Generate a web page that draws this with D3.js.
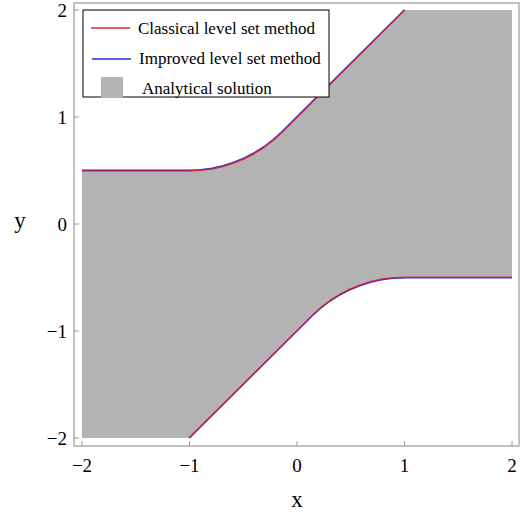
<!DOCTYPE html>
<html>
<head>
<meta charset="utf-8">
<script src="https://cdn.jsdelivr.net/npm/d3@7"></script>
<style>
    body { margin: 0; background: #fff; }
    text { font-family: 'Liberation Serif', 'Times New Roman', serif; fill: #000; }
</style>
</head>
<body>
<div id="chart"></div>
<script>
// tick values
const xTicks = [-2, -1, 0, 1, 2]
const yTicks = [-2, -1, 0, 1, 2]

// analytical solution, upper and lower boundary (x, y)
const upperX = [-2, -1, -0.895, -0.79, -0.688, -0.587, -0.49, -0.396, -0.308, -0.224, -0.146, 1, 2]
const upperY = [0.5, 0.5, 0.505, 0.518, 0.541, 0.573, 0.613, 0.662, 0.718, 0.782, 0.854, 2, 2]
const lowerX = [-2, -1, 0.146, 0.224, 0.308, 0.396, 0.49, 0.587, 0.688, 0.79, 0.895, 1, 2]
const lowerY = [-2, -2, -0.854, -0.782, -0.718, -0.662, -0.613, -0.573, -0.541, -0.518, -0.505, -0.5, -0.5]

// numerical interfaces (x, y)
const classicalTopX = [-2, -1, -0.895, -0.79, -0.688, -0.587, -0.49, -0.396, -0.308, -0.224, -0.146, 1]
const classicalTopY = [0.496, 0.496, 0.502, 0.515, 0.538, 0.57, 0.61, 0.659, 0.715, 0.779, 0.851, 1.997]
const classicalBottomX = [-1, 0.146, 0.224, 0.308, 0.396, 0.49, 0.587, 0.688, 0.79, 0.895, 1, 2]
const classicalBottomY = [-2, -0.851, -0.779, -0.715, -0.659, -0.61, -0.57, -0.538, -0.515, -0.502, -0.497, -0.497]
const improvedTopX = [-2, -1, -0.895, -0.79, -0.688, -0.587, -0.49, -0.396, -0.308, -0.224, -0.146, 1]
const improvedTopY = [0.503, 0.503, 0.508, 0.522, 0.545, 0.577, 0.617, 0.666, 0.722, 0.786, 0.858, 2.002]
const improvedBottomX = [-1.004, 0.142, 0.22, 0.304, 0.392, 0.486, 0.583, 0.684, 0.786, 0.891, 1, 2]
const improvedBottomY = [-2, -0.858, -0.786, -0.722, -0.666, -0.617, -0.577, -0.545, -0.522, -0.508, -0.503, -0.503]

const legendNames = ['Classical level set method', 'Improved level set method', 'Analytical solution']
const legendColors = ['#e3202c', '#2a2ad8', '#b3b3b3']

const width = 528
const height = 514
const frame = {left: 74, right: 519, top: 3, bottom: 446}

const svg = d3.select('#chart')
    .append('svg')
        .attr('width', width)
        .attr('height', height)

const xScale = d3.scaleLinear().domain([-2, 2]).range([82, 512])
const yScale = d3.scaleLinear().domain([-2, 2]).range([438, 10])

const zip = (xs, ys) => xs.map((x, i) => [x, ys[i]])

const valueline = d3.line()
    .x((d) => xScale(d[0]))
    .y((d) => yScale(d[1]))

// gray region: upper boundary left to right, then lower boundary right to left
const region = zip(upperX, upperY).concat(zip(lowerX, lowerY).reverse())
svg.append('path')
    .attr('d', valueline(region) + 'Z')
    .style('fill', legendColors[2])
    .style('stroke', 'none')

const plotSignal = (points, color, opacity) => {
    svg.append('path')
        .attr('d', valueline(points))
        .style('fill', 'none')
        .style('stroke', color)
        .style('stroke-width', 1.5)
        .style('stroke-opacity', opacity)
        .style('stroke-linejoin', 'round')
}

plotSignal(zip(improvedTopX, improvedTopY), legendColors[1], 1)
plotSignal(zip(improvedBottomX, improvedBottomY), legendColors[1], 1)
plotSignal(zip(classicalTopX, classicalTopY), legendColors[0], 0.8)
plotSignal(zip(classicalBottomX, classicalBottomY), legendColors[0], 0.8)

// frame
svg.append('rect')
    .attr('x', frame.left)
    .attr('y', frame.top)
    .attr('width', frame.right - frame.left)
    .attr('height', frame.bottom - frame.top)
    .style('fill', 'none')
    .style('stroke', '#9a9a9a')
    .style('stroke-width', 1.2)

// ticks point inward, labels outside
const fmt = (d) => d < 0 ? '\u2212' + Math.abs(d) : '' + d

const xAxis = svg.append('g').attr('class', 'x axis')
xAxis.selectAll('line')
    .data(xTicks)
    .enter().append('line')
        .attr('x1', (d) => xScale(d))
        .attr('x2', (d) => xScale(d))
        .attr('y1', frame.bottom)
        .attr('y2', frame.bottom - 5)
        .style('stroke', '#9a9a9a')
xAxis.selectAll('text')
    .data(xTicks)
    .enter().append('text')
        .attr('x', (d) => xScale(d))
        .attr('y', 472)
        .attr('text-anchor', 'middle')
        .style('font-size', '19px')
        .text(fmt)

const yAxis = svg.append('g').attr('class', 'y axis')
yAxis.selectAll('line')
    .data(yTicks)
    .enter().append('line')
        .attr('x1', frame.left)
        .attr('x2', frame.left + 5)
        .attr('y1', (d) => yScale(d))
        .attr('y2', (d) => yScale(d))
        .style('stroke', '#9a9a9a')
yAxis.selectAll('text')
    .data(yTicks)
    .enter().append('text')
        .attr('x', 67)
        .attr('y', (d) => yScale(d) + 6.5)
        .attr('text-anchor', 'end')
        .style('font-size', '19px')
        .text(fmt)

// axis titles
svg.append('text')
    .attr('x', 297)
    .attr('y', 507)
    .attr('text-anchor', 'middle')
    .style('font-size', '23px')
    .text('x')
svg.append('text')
    .attr('x', 20)
    .attr('y', 228)
    .attr('text-anchor', 'middle')
    .style('font-size', '23px')
    .text('y')

// legend
const legend = svg.append('g')
    .attr('class', 'legend')
    .attr('transform', 'translate(83,10)')
legend.append('rect')
    .attr('width', 246)
    .attr('height', 87)
    .style('fill', '#fff')
    .style('stroke', '#000')
    .style('stroke-width', 1)

legendNames.forEach((name, i) => {
    const cy = 18 + i * 27
    if (i < 2) {
        legend.append('line')
            .attr('x1', 8 + i)
            .attr('x2', 47 + i)
            .attr('y1', cy + i * 4)
            .attr('y2', cy + i * 4)
            .style('stroke', legendColors[i])
            .style('stroke-width', 1.3)
    } else {
        legend.append('rect')
            .attr('x', 18)
            .attr('y', cy - 5)
            .attr('width', 22)
            .attr('height', 21)
            .style('fill', legendColors[i])
    }
    legend.append('text')
        .attr('x', 55 + (i === 2 ? 4 : i))
        .attr('y', cy + 6 + i * 3)
        .style('font-size', '17px')
        .text(name)
})
</script>
</body>
</html>
